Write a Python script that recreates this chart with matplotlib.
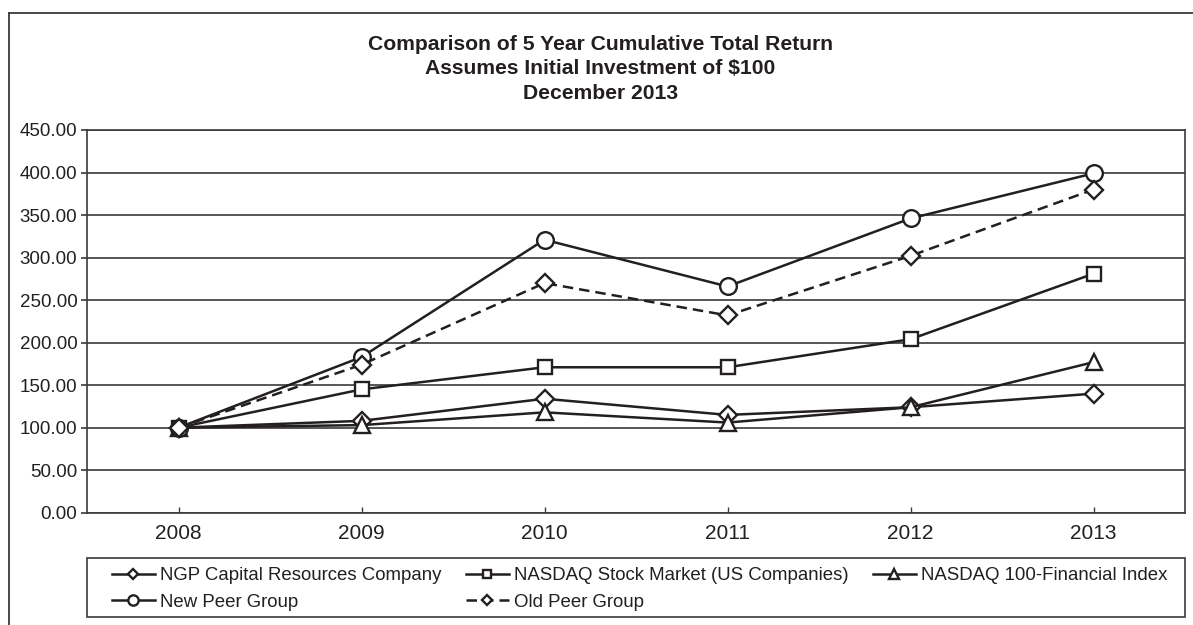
import matplotlib
matplotlib.use("Agg")
import matplotlib.pyplot as plt
from matplotlib.lines import Line2D
from matplotlib.patches import Rectangle

years = ["2008", "2009", "2010", "2011", "2012", "2013"]
ngp = [100, 108, 134, 115, 124, 140]
nasdaq = [100, 145, 171, 171, 204, 281]
nasdaq_fin = [100, 103, 118, 106, 124, 177]
new_peer = [100, 183, 321, 266, 346, 399]
old_peer = [100, 174, 270, 232, 302, 380]
labels = ["NGP Capital Resources Company", "NASDAQ Stock Market (US Companies)",
          "NASDAQ 100-Financial Index", "New Peer Group", "Old Peer Group"]
yticks = [0, 50, 100, 150, 200, 250, 300, 350, 400, 450]

plt.rcParams['font.family'] = ['Liberation Sans', 'DejaVu Sans']
INK = "#231f20"
GRID = "#3a3a3a"

fig = plt.figure(figsize=(11.93, 6.25), dpi=100)
W, H = 1193, 625
ax = fig.add_axes([87 / W, 1 - 512.7 / H, (1185 - 87) / W, (512.7 - 130) / H])

x = list(range(len(years)))
common = dict(color=INK, lw=1.8, markerfacecolor="white", markeredgecolor=INK,
              markeredgewidth=1.7, zorder=3)
h_ngp, = ax.plot(x, ngp, marker="D", markersize=9, label=labels[0], **common)
h_nas, = ax.plot(x, nasdaq, marker="s", markersize=10, label=labels[1], **common)
h_fin, = ax.plot(x, nasdaq_fin, marker="^", markersize=11.5, label=labels[2], **common)
h_new, = ax.plot(x, new_peer, marker="o", markersize=12, label=labels[3], **common)
h_old, = ax.plot(x, old_peer, marker="D", markersize=9, linestyle=(0, (4.2, 2.4)),
                 label=labels[4], **common)

ax.set_xlim(-0.5, len(years) - 0.5)
ax.set_ylim(0, 450)
ax.set_yticks(yticks)
ax.set_yticklabels([f"{v:.2f}" for v in yticks])
ax.set_xticks(x)
ax.set_xticklabels(years)
ax.yaxis.grid(True, color=GRID, lw=1.2)
ax.set_axisbelow(True)
for s in ax.spines.values():
    s.set_color(GRID)
    s.set_linewidth(1.2)
ax.tick_params(axis="y", direction="out", length=4, width=1.2, color=GRID,
               labelsize=13.5, pad=3, labelcolor=INK)
ax.tick_params(axis="x", direction="in", length=4, width=1.0, color=GRID,
               labelsize=15, pad=8, labelcolor=INK)

fig.text(0.503, 1 - 69 / H,
         "Comparison of 5 Year Cumulative Total Return\nAssumes Initial Investment of $100\nDecember 2013",
         ha="center", va="center", fontsize=15.2, fontweight="bold", color=INK,
         linespacing=1.38)

# outer frame (left and top edges)
fig.add_artist(Line2D([9 / W, 9 / W], [0, 1 - 13 / H], transform=fig.transFigure,
                      color=GRID, lw=1.3))
fig.add_artist(Line2D([9 / W, 1], [1 - 13 / H, 1 - 13 / H], transform=fig.transFigure,
                      color=GRID, lw=1.3))

# legend frame
fig.add_artist(Rectangle((87 / W, 1 - 617 / H), (1185 - 87) / W, (617 - 558) / H,
                         transform=fig.transFigure, fill=False, edgecolor=GRID, lw=1.2))

columns = [([h_ngp, h_new], 112), ([h_nas, h_old], 466), ([h_fin], 873)]
for hs, xpx in columns:
    lg = fig.legend(hs, [h.get_label() for h in hs], loc="upper left",
                    bbox_to_anchor=(xpx / W, 1 - 567 / H), bbox_transform=fig.transFigure,
                    fontsize=13.4, frameon=False, handlelength=2.3, handletextpad=0.3,
                    markerscale=0.62, labelspacing=0.52, borderpad=0, borderaxespad=0)
    for t in lg.get_texts():
        t.set_color(INK)

fig.savefig("out.png", dpi=100)
